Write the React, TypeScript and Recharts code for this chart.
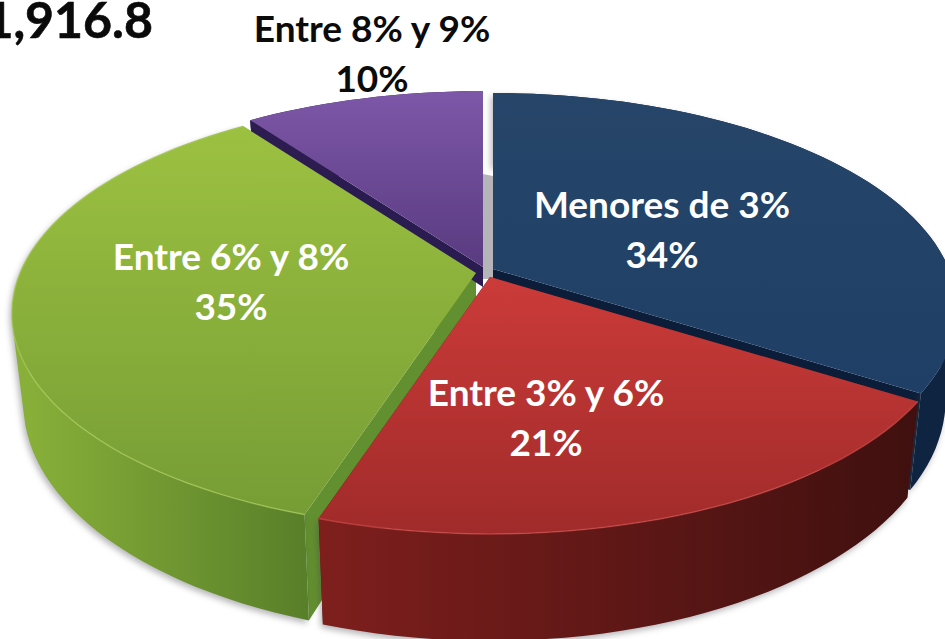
import React from "react";
import { PieChart, Pie } from "recharts";

const categories = ["Menores de 3%", "Entre 3% y 6%", "Entre 6% y 8%", "Entre 8% y 9%"];
const shares = [34, 21, 35, 10];
const totalLabel = "1,916.8";
// back-to-front painting order, so nearer slices cover farther ones
const paintOrder = [2, 3, 0, 1];

const W = 945, H = 639, CX = 483, CY = 271, R = 456;
const K = 0.187, YR = 0.458, DEPTH = 87, BOTTOM_X = 0.975;
const FONT = "Lato, Carlito, Calibri, sans-serif";

const look: Record<string, any> = {
  "Menores de 3%": { dx: 10, dy: -2, top: "topBlue", side: "#0f2440", face: "#0b1d38", rim: "none", label: "#fff", at: [662, 232], faceDepth: 1 },
  "Entre 3% y 6%": { dx: 7, dy: 6, top: "topRed", side: "url(#sideRed)", face: "#5a1614", rim: "#c94a48", label: "#fff", at: [546, 420], faceDepth: 1 },
  "Entre 6% y 8%": { dx: -7, dy: 2, top: "topGreen", side: "url(#sideGreen)", face: "#628f2f", rim: "#a6c95a", label: "#fff", at: [231, 284], faceDepth: 1 },
  "Entre 8% y 9%": { dx: 0, dy: -4, top: "topPurple", side: "#2c1c50", face: "#2a1c50", rim: "none", label: "#0b0b0b", at: [372, 56], faceDepth: 0.23 },
};

const rows = paintOrder.map((i) => ({ name: categories[i], value: shares[i] }));

type P = { x: number; y: number; s: number };

function pt(cx: number, cy: number, t: number, r = 1): P {
  const rad = (t * Math.PI) / 180;
  const u = r * Math.sin(rad), v = r * Math.cos(rad);
  const s = 1 / (1 + K * v);
  return { x: cx + R * u * s, y: cy - R * YR * v * s, s };
}
const low = (cx: number, p: P, depth = 1): P => ({
  x: cx + (p.x - cx) * (1 - (1 - BOTTOM_X) * depth),
  y: p.y + DEPTH * p.s * depth,
  s: p.s,
});
function arc(cx: number, cy: number, a: number, b: number) {
  const n = Math.max(2, Math.ceil(Math.abs(b - a) / 2));
  const out: P[] = [];
  for (let i = 0; i <= n; i++) out.push(pt(cx, cy, a + ((b - a) * i) / n));
  return out;
}
const d = (ps: { x: number; y: number }[]) =>
  "M" + ps.map((p) => `${p.x.toFixed(1)},${p.y.toFixed(1)}`).join("L") + "Z";

// same winding for every quad, so overlapping quads never cancel under nonzero fill
function wound(ps: P[]) {
  let area = 0;
  ps.forEach((p, i) => {
    const q = ps[(i + 1) % ps.length];
    area += p.x * q.y - q.x * p.y;
  });
  return area < 0 ? [...ps].reverse() : ps;
}

function geometry(props: any) {
  const l = look[props.name];
  const cx = CX + l.dx, cy = CY + l.dy;
  const t0 = 90 - props.startAngle, t1 = 90 - props.endAngle;
  return { l, cx, cy, t0, t1, rim: arc(cx, cy, t0, t1) };
}

function Wall(props: any) {
  const { l, cx, cy, rim } = geometry(props);
  const v: P = { x: cx, y: cy, s: 1 };
  const vLow = low(cx, v, l.faceDepth);
  const a = rim[0], b = rim[rim.length - 1];
  const front = l.rim !== "none" || props.name === "Menores de 3%";
  const gapTop = pt(cx, cy, 0);
  const blueX = CX + look["Menores de 3%"].dx;
  // the curved side as a ruled strip, one quad per rim step
  let strip = "";
  for (let i = 0; i < rim.length - 1; i++) {
    strip += d(wound([rim[i], rim[i + 1], low(cx, rim[i + 1]), low(cx, rim[i])]));
  }
  return (
    <g>
      {props.name === "Entre 8% y 9%" && (
        <path
          fill="#b5b5b9"
          d={d([
            { x: cx, y: gapTop.y + 83 },
            { x: blueX, y: gapTop.y + 85 },
            { x: blueX, y: cy + 12 },
            { x: cx, y: cy + 12 },
          ])}
        />
      )}
      <path fill={l.face} d={d([v, a, low(cx, a, l.faceDepth), vLow])} />
      <path fill={l.face} d={d([v, b, low(cx, b, l.faceDepth), vLow])} />
      <path
        fill={l.side}
        fillRule="nonzero"
        style={front ? { filter: "drop-shadow(-2px 3px 3px rgba(70,70,80,0.4))" } : undefined}
        d={strip}
      />
    </g>
  );
}

function Top(props: any) {
  const { l, cx, cy, rim } = geometry(props);
  const rimPath = "M" + rim.map((p) => `${p.x.toFixed(1)},${p.y.toFixed(1)}`).join("L");
  return (
    <g>
      <path fill={`url(#${l.top})`} d={d([{ x: cx, y: cy }, ...rim])} />
      {l.rim !== "none" && <path d={rimPath} fill="none" stroke={l.rim} strokeWidth={1.5} strokeOpacity={0.7} />}
    </g>
  );
}

function SliceLabel(props: any) {
  const l = look[props.name];
  const [x, y] = l.at;
  return (
    <text x={x} textAnchor="middle" fontFamily={FONT} fontWeight={700} fontSize={37} fill={l.label}>
      <tspan x={x} y={y - 14}>{props.name}</tspan>
      <tspan x={x} y={y + 36}>{`${props.value}%`}</tspan>
    </text>
  );
}

const ramp = (id: string, a: string, b: string, horizontal = false) => (
  <linearGradient id={id} x1="0" y1="0" x2={horizontal ? "1" : "0"} y2={horizontal ? "0" : "1"}>
    <stop offset="0%" stopColor={a} />
    <stop offset="100%" stopColor={b} />
  </linearGradient>
);

export default function App() {
  return (
    <div style={{ position: "absolute", left: 0, top: 0, width: W, height: H, background: "#fff", overflow: "hidden" }}>
      <PieChart width={W} height={H} margin={{ top: 0, right: 0, bottom: 0, left: 0 }}>
        <defs>
          {ramp("topBlue", "#264569", "#1f3f66")}
          {ramp("topRed", "#cb3b39", "#a02b2a")}
          {ramp("topGreen", "#9cc141", "#769d35")}
          {ramp("topPurple", "#7d57a8", "#593b80")}
          {ramp("sideRed", "#7e1f1d", "#3f100f", true)}
          {ramp("sideGreen", "#8ab23a", "#587f29", true)}
        </defs>
        <Pie
          data={rows}
          dataKey="value"
          nameKey="name"
          cx={CX}
          cy={CY}
          outerRadius={R}
          startAngle={-108}
          endAngle={-468}
          stroke="none"
          isAnimationActive={false}
          shape={Wall}
          label={false}
          labelLine={false}
        />
        <Pie
          data={rows}
          dataKey="value"
          nameKey="name"
          cx={CX}
          cy={CY}
          outerRadius={R}
          startAngle={-108}
          endAngle={-468}
          stroke="none"
          isAnimationActive={false}
          shape={Top}
          label={SliceLabel}
          labelLine={false}
        />
        <text x={153} y={38} textAnchor="end" fontFamily={FONT} fontWeight={700} fontSize={50} fill="#0a0a0a" stroke="#0a0a0a" strokeWidth={0.6}>
          {totalLabel}
        </text>
      </PieChart>
    </div>
  );
}
